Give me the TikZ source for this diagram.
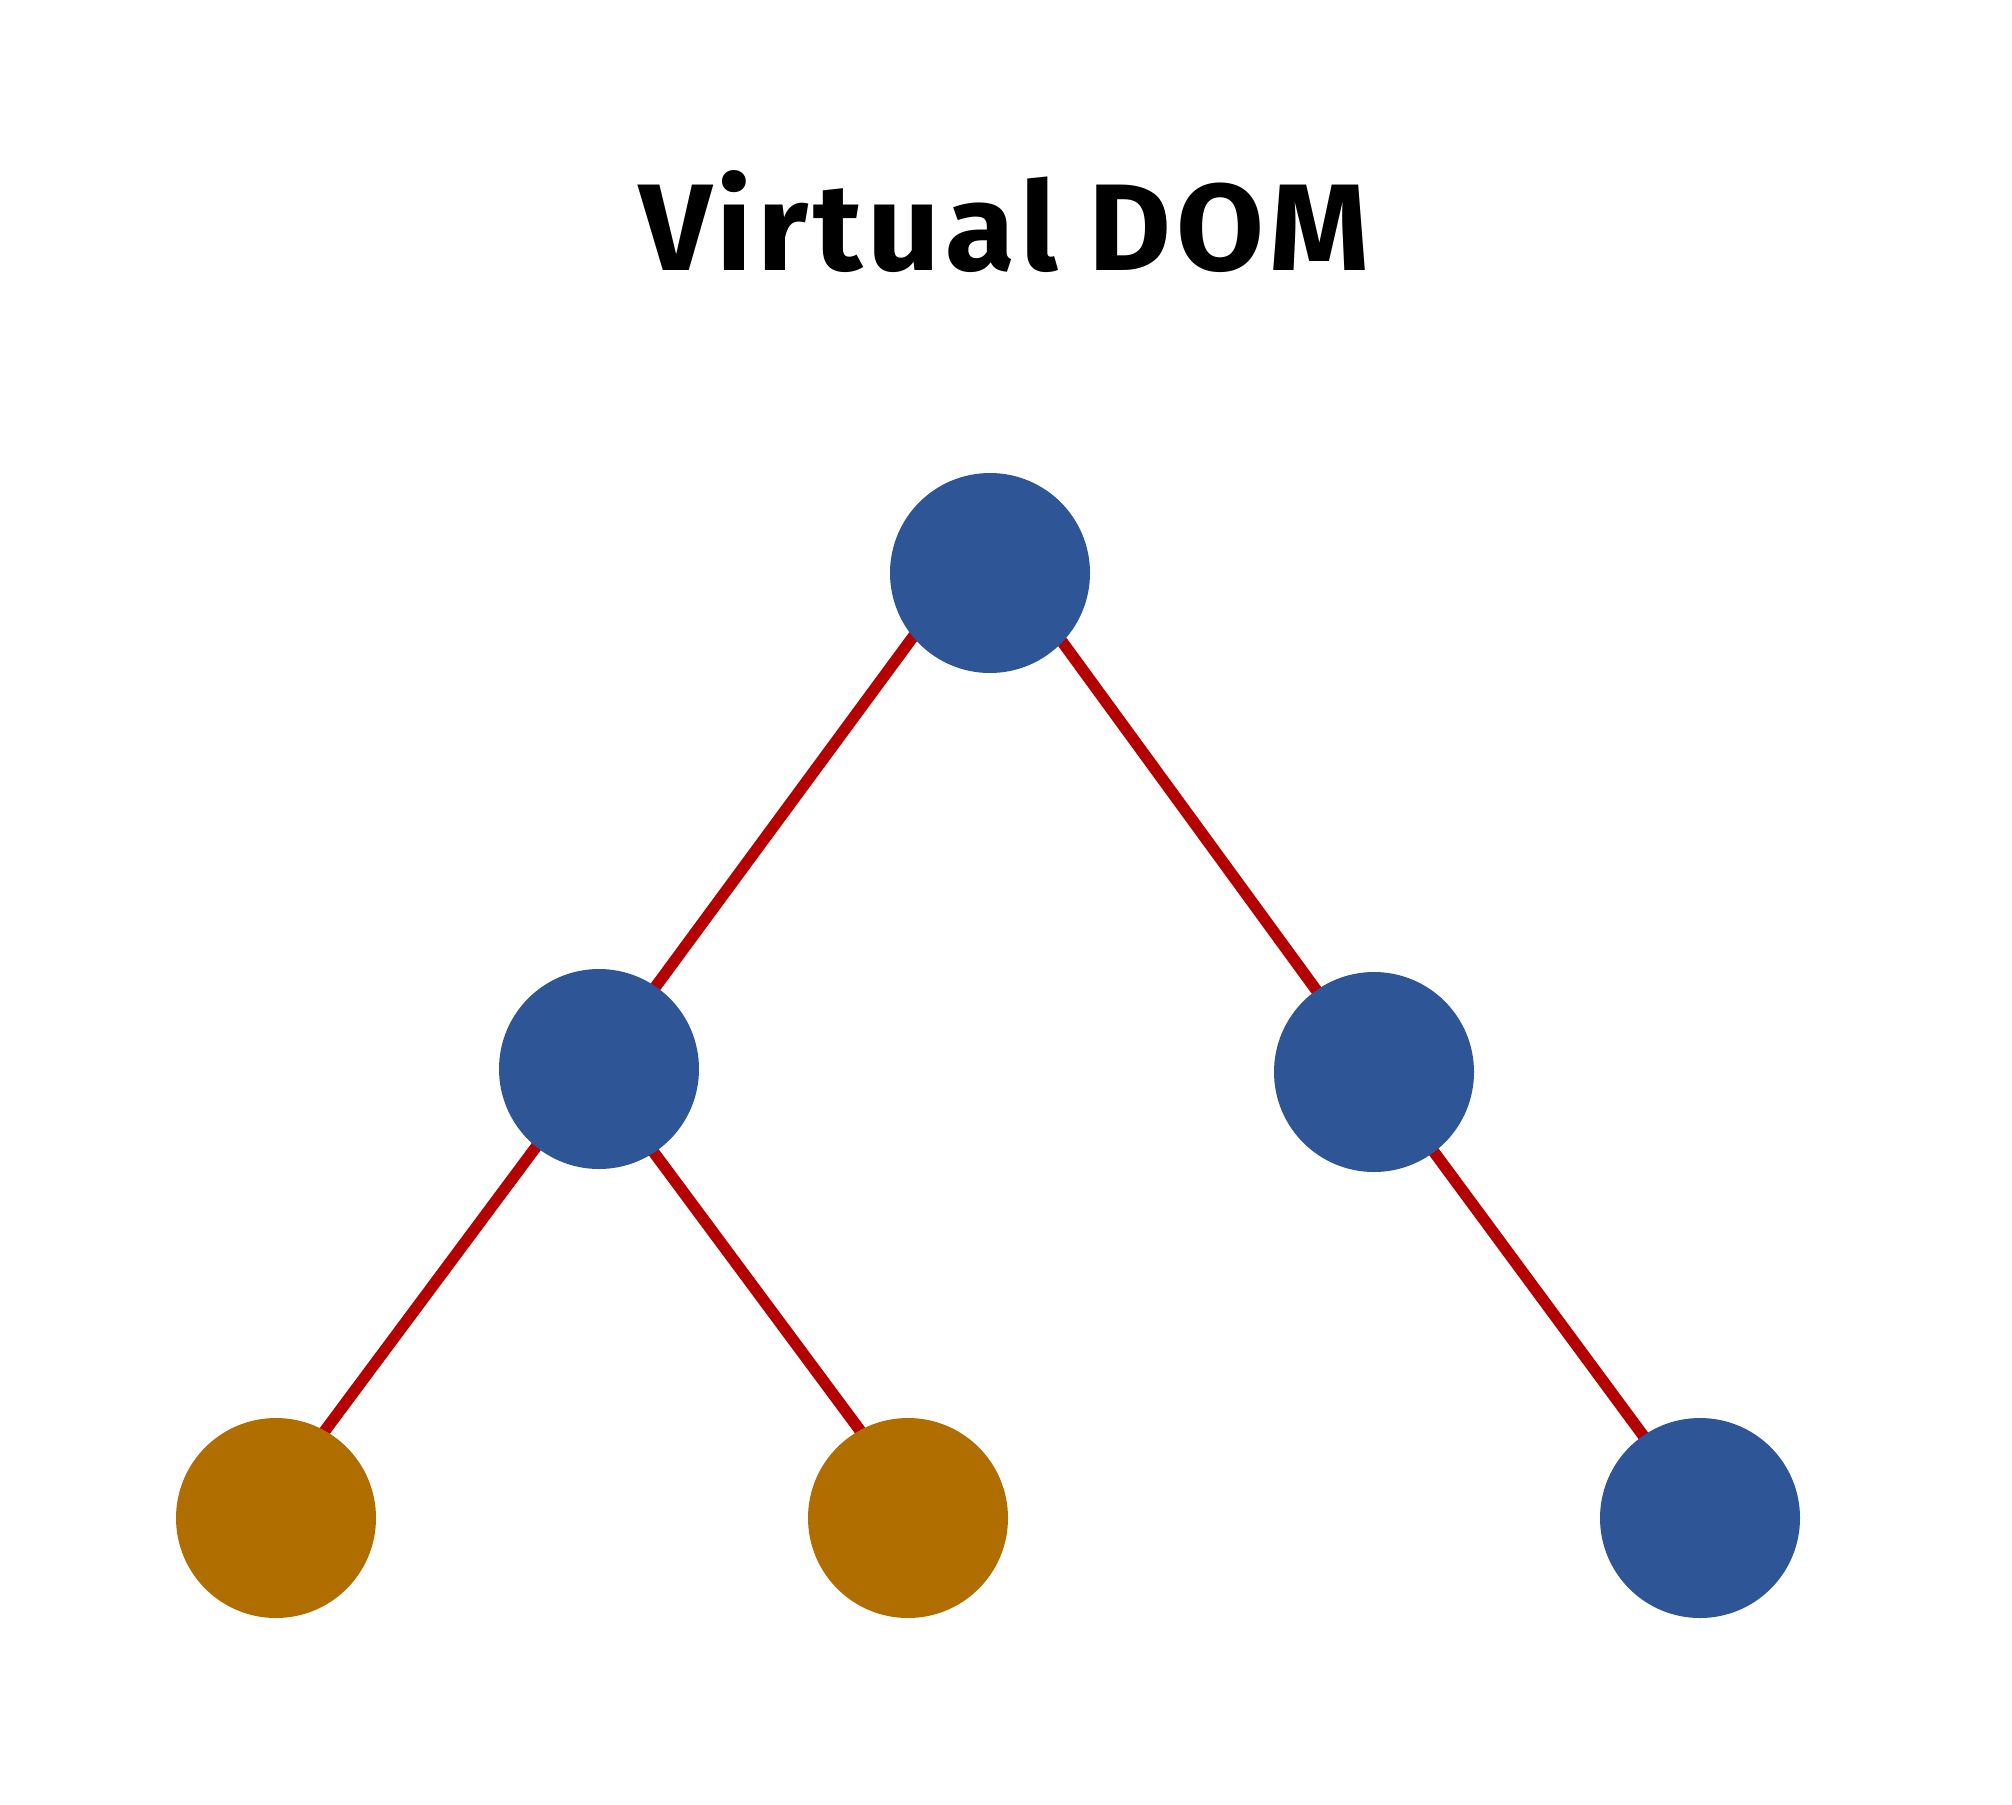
\documentclass[tikz,border=0pt]{standalone}
\usepackage{fontspec}
\setmainfont{Fira Sans}
\definecolor{nodeblue}{RGB}{46,85,150}
\definecolor{leaforange}{RGB}{176,110,0}
\definecolor{edgered}{RGB}{180,0,0}
\tikzset{
  vnode/.style={circle, fill=nodeblue, draw=none, minimum size=200pt, inner sep=0pt},
  lnode/.style={vnode, fill=leaforange},
  vedge/.style={draw=edgered, line width=11.5pt}
}
\begin{document}
\begin{tikzpicture}[x=1pt,y=-1pt]
\useasboundingbox[fill=white] (0,0) rectangle (2012,1804);
\node[anchor=base west, inner sep=0pt] (title) at (639,270)
  {\resizebox{730pt}{100pt}{\bfseries V\kern0.04em i\kern0.04em r\kern0.04em t\kern0.04em u\kern0.04em a\kern0.04em l D\kern0.04em O\kern0.04em M}};
% edges (drawn first, beneath the circles)
\coordinate (root) at (990,573);
\coordinate (lmid) at (599,1069);
\coordinate (rmid) at (1374,1072);
\coordinate (leafa) at (276,1518);
\coordinate (leafb) at (908,1518);
\coordinate (leafc) at (1700,1518);
\draw[vedge] ([xshift=-30pt]root) -- ([xshift=-4pt]lmid);
\draw[vedge] ([xshift=22pt]root) -- ([xshift=2pt]rmid);
\draw[vedge] ([xshift=-5pt]lmid) -- ([xshift=-16pt]leafa);
\draw[vedge] ([xshift=-7pt]lmid) -- ([xshift=17pt]leafb);
\draw[vedge] ([xshift=1pt]rmid) -- ([xshift=4pt]leafc);
% circles
\node[vnode] (nroot) at (root) {};
\node[vnode] (nlmid) at (lmid) {};
\node[vnode] (nrmid) at (rmid) {};
\node[lnode] (nleafa) at (leafa) {};
\node[lnode] (nleafb) at (leafb) {};
\node[vnode] (nleafc) at (leafc) {};
\end{tikzpicture}
\end{document}
